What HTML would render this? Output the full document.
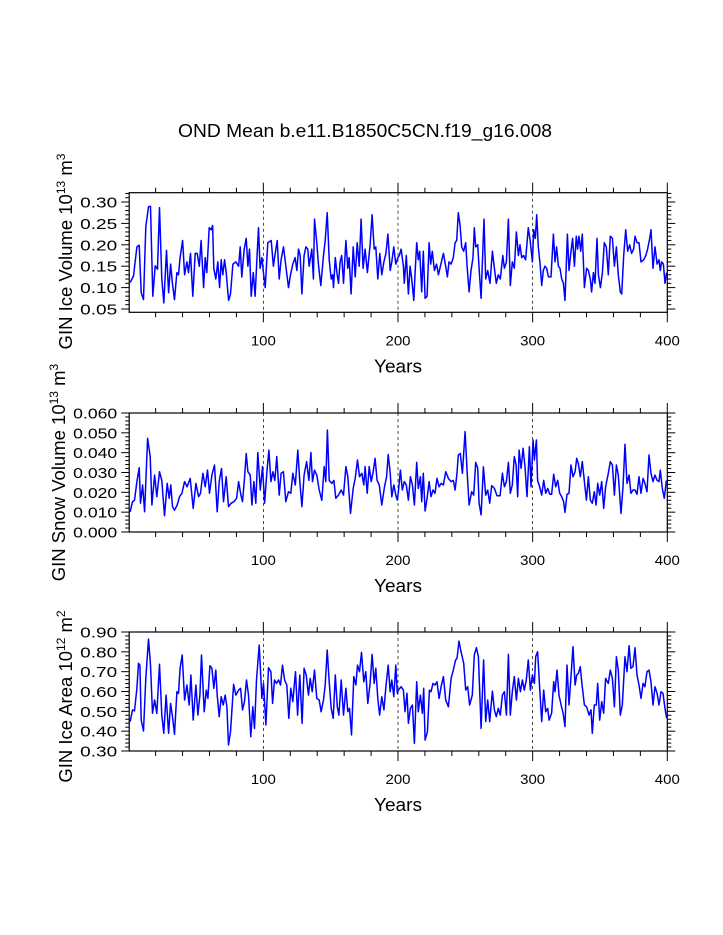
<!DOCTYPE html>
<html><head><meta charset="utf-8"><style>
body{margin:0;background:#fff;}
svg{display:block;font-family:"Liberation Sans",Arial,sans-serif;}
</style></head><body>
<svg id="chart" width="723" height="935" viewBox="0 0 723 935" xmlns="http://www.w3.org/2000/svg">
<rect width="723" height="935" fill="#fff"/>
<text x="365" y="137" font-size="18" text-anchor="middle" textLength="374" lengthAdjust="spacingAndGlyphs">OND Mean b.e11.B1850C5CN.f19_g16.008</text>
</svg>
<script>
// Panel 1: GIN Ice Volume
const iceVolYears=[1.1,3.6,6.1,7.8,9.3,11,12.7,14.7,16.2,17.9,19.7,21.4,22.9,24.6,26.1,28.1,29.6,31.1,32.5,34,35.8,37,38.2,40,41.5,43.2,44.4,45.9,47.6,49.4,50.9,52.4,53.8,55.6,56.8,58,59.8,61.3,62.3,63.2,64.7,66.2,67.5,68.7,69.9,71.2,72.4,74.2,75.6,77.4,79.6,81.6,82.8,84,85.8,87.3,88.5,89.7,91,92.5,93.9,95.4,96.4,97.6,98.9,99.9,101.4,103.3,105.8,107.5,108.8,110.3,111.8,113.2,115,116.9,118.7,120.2,121.9,123.6,124.9,126.1,127.4,128.6,130.3,131.6,133,134,136,137.2,138,139.7,140.9,142.7,144.7,145.9,147.4,148.9,150.4,151.4,152.1,153.4,154.6,155.8,157,158.2,159.5,161.3,162.7,163.7,165.2,166.7,168.2,169.7,171.2,172.6,174.1,175.6,177.3,179.3,180.8,182.3,183.5,185,186.5,188,189.5,191,192.5,194.2,195.4,196.9,198.4,199.9,
201,202.3,204,204.7,206.2,207.7,209,210.2,211.7,212.7,213.9,215.1,216.1,217.6,218.8,220.1,221.6,223.1,224.3,225.5,227,228.7,230,231.5,233.7,235.4,236.7,237.9,239.4,241.1,242.4,243.6,244.8,246.1,247.3,248.8,250.3,251.3,252.8,254.2,255.7,256.7,257.7,259.2,260.2,261.7,262.7,263.9,265.1,266.6,268.3,270.1,271.6,273,274.5,276,277.8,279,280.5,282,283.4,284.9,286.4,287.9,289.4,290.6,291.9,293.3,294.8,296.8,298.3,299.8,300.8,302,303,304.2,305.5,306.7,307.9,309.2,310.4,311.7,313.6,315.4,316.6,317.8,319.1,320.3,321.6,322.8,324,325.8,327,328.5,329.7,331,332.4,333.4,334.4,335.7,336.9,338.4,340.1,341.4,342.8,343.8,345.1,346.3,347.8,348.8,350.3,351.8,353.2,354.7,356.2,357.7,359.2,360.7,362.2,363.6,365.1,366.1,367.6,369.1,370.6,372.1,373.5,375,376,377.5,379,380.5,382.5,384,385.4,386.9,387.9,389.4,390.9,392.4,393.8,394.8,395.8,397.1,398.3,399.5];
const iceVolValues=[0.112,0.127,0.195,0.199,0.088,0.072,0.242,0.289,0.29,0.08,0.151,0.143,0.287,0.12,0.064,0.187,0.088,0.155,0.108,0.072,0.135,0.13,0.17,0.21,0.13,0.16,0.135,0.18,0.08,0.18,0.18,0.15,0.21,0.10,0.17,0.135,0.24,0.235,0.245,0.145,0.12,0.16,0.10,0.165,0.13,0.165,0.135,0.07,0.085,0.155,0.16,0.15,0.195,0.125,0.19,0.215,0.15,0.19,0.08,0.135,0.08,0.18,0.24,0.145,0.17,0.14,0.10,0.205,0.21,0.15,0.18,0.21,0.12,0.165,0.195,0.145,0.10,0.13,0.155,0.17,0.14,0.19,0.175,0.085,0.175,0.195,0.19,0.15,0.19,0.12,0.26,0.205,0.155,0.105,0.175,0.21,0.275,0.165,0.12,0.13,0.10,0.17,0.135,0.11,0.16,0.175,0.11,0.21,0.145,0.17,0.085,0.195,0.125,0.205,0.15,0.26,0.145,0.19,0.135,0.20,0.27,0.19,0.195,0.12,0.18,0.13,0.16,0.18,0.225,0.14,0.16,0.195,0.155,0.17,
0.175,0.19,0.15,0.11,0.175,0.085,0.15,0.12,0.07,0.135,0.205,0.165,0.185,0.09,0.185,0.075,0.08,0.205,0.155,0.185,0.14,0.155,0.13,0.15,0.18,0.15,0.125,0.16,0.155,0.17,0.205,0.21,0.275,0.245,0.195,0.185,0.205,0.15,0.09,0.14,0.17,0.24,0.195,0.2,0.145,0.075,0.16,0.26,0.12,0.14,0.11,0.185,0.145,0.11,0.13,0.12,0.175,0.145,0.16,0.26,0.105,0.16,0.145,0.23,0.175,0.2,0.17,0.175,0.165,0.24,0.205,0.16,0.235,0.215,0.27,0.195,0.155,0.105,0.14,0.15,0.145,0.125,0.125,0.225,0.16,0.195,0.15,0.145,0.12,0.11,0.07,0.225,0.14,0.185,0.215,0.15,0.22,0.19,0.22,0.185,0.225,0.10,0.145,0.14,0.12,0.09,0.135,0.11,0.215,0.13,0.10,0.135,0.205,0.195,0.13,0.22,0.215,0.15,0.195,0.13,0.09,0.085,0.175,0.235,0.185,0.2,0.18,0.19,0.22,0.205,0.205,0.16,0.165,0.175,0.19,0.215,0.235,0.145,0.195,0.155,0.165,0.14,0.16,0.155,0.11,0.135];

// Panel 2: GIN Snow Volume
const snowYears=[1.1,2.8,4.3,6.1,7.8,8.8,10.3,11.8,14,16,17.2,19.2,20.9,22.9,24.6,26.6,28.6,30.1,31.3,32.5,34,36,37.7,39.5,41.5,43.4,45.7,47.9,49.9,51.9,53.3,55.1,56.8,58.5,60,61.8,63.7,65.7,67.2,68.9,70.4,72.4,74.1,76.1,78.1,80.1,81.6,83.3,84.5,86,87.3,88.5,90.2,91.5,93,94.4,95.9,97.7,99.4,100.9,102.6,104.1,105.6,107.1,108.5,110,111.8,113.2,114.9,116.7,118.7,120.4,121.9,123.7,125.6,127.1,128.6,130.3,132.1,133.8,135.3,136.5,138,139.7,141.5,143.4,145.2,146.4,147.6,148.9,150.9,152.4,153.8,155.8,157.8,159.5,161.3,162.7,164.7,166.7,168.2,169.9,171.4,173.1,174.6,175.6,177.1,178.6,180.1,181.6,183,184.5,186.1,188,190,191.5,192.7,194.2,195.4,196.9,198.4,
199.5,200.3,201.8,203.2,204.7,206.2,207.7,209.2,210.7,212.2,213.9,215.1,216.6,217.6,218.8,220.1,221.6,223.1,224.5,226,227.5,229,230.5,232,233.7,235.4,237.4,239.4,241.1,242.4,243.8,244.8,246.3,247.8,249.8,251.3,252.8,254.7,256.2,257.7,259.2,260.2,261.7,263.4,265.1,266.6,268.1,269.6,271.6,273.5,275.8,277.5,279,280.5,282,283.4,284.9,286.4,287.7,288.9,289.9,291.4,292.9,294.3,295.8,297.6,298.8,300.3,301.3,302.8,303.7,305.2,306.7,308.2,309.7,311.2,312.7,314.1,315.6,317.1,318.6,320.1,321.6,323,324,325.5,327,328.5,330,331.5,332.7,333.9,335.4,336.9,338.4,339.9,341.4,342.8,344.3,345.8,347.1,348.3,349.8,351.3,352.8,354.2,356.2,357.7,359.2,360.7,362.2,363.6,365.6,367.1,368.6,370.1,371.6,373,374.5,376,377.5,379,380.5,382,383.4,384.9,386.4,387.9,389.4,390.9,392.4,393.8,394.8,396.3,397.8,399.3];
const snowValues=[0.0102,0.0153,0.016,0.0254,0.0324,0.0145,0.0237,0.0102,0.0472,0.038,0.0136,0.0287,0.0178,0.0304,0.026,0.0082,0.0245,0.017,0.0237,0.0128,0.011,0.0136,0.0178,0.0195,0.0254,0.0228,0.027,0.0119,0.0245,0.0178,0.0195,0.0296,0.0228,0.0312,0.0195,0.0287,0.0338,0.0102,0.0254,0.032,0.0153,0.0279,0.0128,0.0145,0.0153,0.017,0.0254,0.0186,0.0153,0.027,0.0396,0.0304,0.0287,0.0136,0.0254,0.0145,0.0401,0.0212,0.033,0.0145,0.0304,0.0413,0.0254,0.0304,0.026,0.038,0.0186,0.0296,0.0304,0.0153,0.0203,0.0195,0.0296,0.0237,0.0413,0.0254,0.0128,0.0287,0.0355,0.026,0.0401,0.0254,0.0312,0.0287,0.0212,0.016,0.033,0.0254,0.0514,0.026,0.0245,0.026,0.017,0.0186,0.0212,0.0186,0.033,0.0279,0.0094,0.022,0.027,0.0363,0.0279,0.0296,0.0237,0.033,0.0195,0.033,0.0254,0.0304,0.0371,0.026,0.0237,0.0136,0.0228,0.0279,0.0391,0.0296,0.0178,0.0237,0.0186,
0.0161,0.0203,0.0312,0.0212,0.0254,0.0237,0.0161,0.0279,0.0237,0.0136,0.0351,0.022,0.0279,0.0153,0.0296,0.0106,0.017,0.0254,0.0178,0.0212,0.0195,0.027,0.0228,0.0245,0.0237,0.0304,0.027,0.0254,0.026,0.0212,0.0296,0.0388,0.0396,0.0296,0.0506,0.0304,0.0136,0.0203,0.0186,0.0351,0.0321,0.0145,0.0086,0.0329,0.0186,0.0212,0.0145,0.0234,0.022,0.0183,0.0183,0.0296,0.0228,0.0254,0.0351,0.0195,0.0237,0.038,0.0338,0.0178,0.0413,0.0321,0.0422,0.0329,0.0178,0.043,0.0228,0.0464,0.0363,0.0464,0.026,0.0228,0.0186,0.026,0.0195,0.022,0.019,0.019,0.0291,0.0228,0.026,0.0195,0.0178,0.0153,0.0099,0.019,0.0195,0.0338,0.0279,0.0304,0.0371,0.0346,0.0279,0.0355,0.0254,0.0161,0.0279,0.0161,0.0145,0.0203,0.0136,0.0245,0.0186,0.0254,0.0119,0.0228,0.0296,0.0355,0.0338,0.0186,0.0338,0.0287,0.0094,0.0228,0.0442,0.0245,0.0287,0.0195,0.0212,0.0212,0.019,0.0279,0.0195,0.027,0.0245,0.0203,0.0388,0.0296,0.0254,0.0287,0.026,0.0254,0.0312,0.022,0.017,0.026];

// Panel 3: GIN Ice Area
const areaYears=[1.1,2.8,4.3,6.1,7.3,8.3,9.3,11,12.7,14.7,16.2,17.7,19.2,20.9,22.9,24.6,26.1,27.8,29.6,31.1,32.5,34,35.8,37,38.2,39.7,41.5,43.2,44.9,46.2,47.9,49.9,51.4,52.9,54.1,56.1,57.6,58.8,60.3,61.8,63.2,64.7,65.7,67.2,68.7,70.2,71.7,72.9,74.1,75.6,77.9,79.6,81.6,83.1,84.5,86,87.5,89,90.7,92.2,93.4,94.9,96.9,98.9,100.1,101.9,103.8,105.6,106.9,108.3,109.8,111.3,112.7,114.2,115.8,117.4,118.9,120.4,121.9,123.9,125.4,127.1,128.8,130.3,131.8,133.5,134.8,136.3,138,139.7,141.5,142.9,144.7,145.9,147.4,148.9,150.4,151.9,153.4,154.9,156.1,157.8,159.5,161.3,162.7,164,165.5,167.2,168.7,169.9,171.4,172.9,174.6,176.1,177.6,179.3,180.8,182.3,183.5,185,186.3,188,189.5,191,192.7,194.2,195.4,196.9,198.4,
199.5,200.3,202.3,204,205.2,206.7,207.7,209.2,210.7,212.2,213.9,215.1,216.6,218.1,219.1,220.1,221.8,223.3,224.5,226,227.5,229,230.5,232,233.7,235.4,237.4,239.4,241.1,242.8,243.8,245.3,246.8,248.8,250.3,251.8,253.2,255.2,256.7,258.2,259.7,261.7,263.6,265.1,266.6,268.1,270.1,271.6,273,274.5,276,277.5,279,280.5,282,283.4,284.9,286.4,287.9,289.4,290.9,292.4,293.8,295.3,296.8,298.3,299.8,301.3,302.3,303.7,305.2,306.7,308.2,309.7,311.2,312.2,314.1,315.6,316.6,318.1,319.6,321.1,322.6,324,325.5,327,328.5,330,331.5,332.7,333.9,335.4,336.4,338.4,340.1,341.9,343.3,344.3,345.8,347.3,348.3,349.8,351.3,352.8,354.2,356.2,357.7,359.2,360.7,362.2,363.6,365.1,366.6,368.6,370.1,371.6,373,374.5,376,377.5,379,380.5,382,383.4,384.9,386.4,387.9,389.4,390.9,392.4,393.8,395.3,396.8,398.3,399.5];
const areaValues=[0.448,0.507,0.502,0.616,0.742,0.733,0.456,0.401,0.666,0.864,0.733,0.49,0.557,0.49,0.737,0.481,0.389,0.582,0.389,0.54,0.473,0.384,0.599,0.591,0.717,0.784,0.557,0.633,0.532,0.683,0.456,0.633,0.481,0.582,0.784,0.498,0.607,0.565,0.73,0.717,0.616,0.708,0.582,0.473,0.574,0.532,0.582,0.523,0.33,0.397,0.636,0.582,0.607,0.616,0.507,0.549,0.658,0.582,0.372,0.523,0.414,0.658,0.834,0.565,0.641,0.431,0.72,0.7,0.54,0.658,0.641,0.658,0.633,0.733,0.658,0.633,0.465,0.616,0.549,0.7,0.481,0.683,0.439,0.717,0.683,0.582,0.666,0.599,0.708,0.565,0.557,0.498,0.557,0.633,0.809,0.649,0.515,0.465,0.683,0.523,0.481,0.658,0.481,0.616,0.498,0.515,0.381,0.675,0.633,0.733,0.7,0.797,0.649,0.7,0.54,0.641,0.787,0.641,0.717,0.565,0.481,0.574,0.507,0.624,0.733,0.599,0.658,0.574,0.733,
0.591,0.607,0.624,0.607,0.498,0.591,0.439,0.515,0.532,0.339,0.649,0.498,0.582,0.49,0.616,0.355,0.397,0.607,0.599,0.641,0.633,0.649,0.565,0.624,0.675,0.557,0.523,0.666,0.708,0.759,0.767,0.854,0.801,0.742,0.607,0.624,0.532,0.582,0.784,0.821,0.775,0.414,0.759,0.448,0.557,0.448,0.602,0.507,0.473,0.515,0.481,0.582,0.599,0.481,0.787,0.481,0.599,0.675,0.557,0.666,0.599,0.658,0.607,0.658,0.759,0.607,0.683,0.641,0.775,0.801,0.616,0.448,0.607,0.498,0.515,0.456,0.49,0.649,0.599,0.708,0.582,0.532,0.49,0.423,0.733,0.532,0.675,0.826,0.633,0.683,0.691,0.725,0.649,0.532,0.523,0.481,0.507,0.389,0.532,0.532,0.641,0.456,0.549,0.49,0.666,0.641,0.708,0.666,0.523,0.775,0.708,0.481,0.532,0.775,0.7,0.831,0.717,0.725,0.821,0.683,0.633,0.565,0.641,0.624,0.7,0.708,0.649,0.532,0.624,0.591,0.532,0.599,0.591,0.515,0.465];

const xTickVals=[100,200,300,400];
const yTicks1=["0.05","0.10","0.15","0.20","0.25","0.30"];
const yTicks2=["0.000","0.010","0.020","0.030","0.040","0.050","0.060"];
const yTicks3=["0.30","0.40","0.50","0.60","0.70","0.80","0.90"];

const NS="http://www.w3.org/2000/svg";
const svg=document.getElementById('chart');
function mk(tag,attrs,parent){const e=document.createElementNS(NS,tag);for(const k in attrs)e.setAttribute(k,attrs[k]);(parent||svg).appendChild(e);return e;}

const L=129.2,R=667.3;
function xs(v){return 128.7+(v)*(667.3-128.7)/400;}

function panel(opt){
  const g=mk('g',{});
  
  
  const T=opt.top,B=opt.bottom;
  const ys=v=>B-(v-opt.ymin)/(opt.ymax-opt.ymin)*(B-T);
  for(const t of [100,200,300]){
    const d=mk('line',{x1:xs(t),x2:xs(t),y1:T,y2:B,stroke:'#000','stroke-width':0.7,'stroke-dasharray':'3,3'},g);
    
    
  }
  let dstr='';
  for(let i=0;i<opt.years.length;i++){dstr+=(i?'L':'M')+xs(opt.years[i]).toFixed(1)+','+ys(opt.values[i]).toFixed(1);}
  const p=mk('path',{d:dstr,fill:'none',stroke:'#0000ff','stroke-width':1.5,'stroke-linejoin':'round'},g);
  
  
  const f=mk('rect',{x:L,y:T,width:R-L,height:B-T,fill:'none',stroke:'#000','stroke-width':1.2},g);
  
  
  for(let yr=20;yr<=400;yr+=20){
    const maj=yr%100===0;const len=maj?10:5;const x=xs(yr);
    mk('line',{x1:x,x2:x,y1:T,y2:T-len,stroke:'#000','stroke-width':1},g);
    mk('line',{x1:x,x2:x,y1:B,y2:B+len,stroke:'#000','stroke-width':1},g);
  }
  for(const t of xTickVals){
    const tx=mk('text',{x:xs(t),y:B+33,'font-size':14,'text-anchor':'middle',textLength:25,lengthAdjust:'spacingAndGlyphs'},g);
    
    
    tx.textContent=t;
  }
  const xt=mk('text',{x:398,y:B+60,'font-size':18,'text-anchor':'middle',textLength:48,lengthAdjust:'spacingAndGlyphs'},g);
  
  
  xt.textContent='Years';
  const start=Math.ceil(opt.ymin/opt.minor-1e-6);
  for(let k=start;k*opt.minor<=opt.ymax+1e-9;k++){
    const v=k*opt.minor;const y=ys(v);
    const isMaj=Math.abs(v/opt.major-Math.round(v/opt.major))<1e-6;
    const len=isMaj?8:4;
    mk('line',{x1:L,x2:L-len,y1:y,y2:y,stroke:'#000','stroke-width':1},g);
    mk('line',{x1:R,x2:R+len,y1:y,y2:y,stroke:'#000','stroke-width':1},g);
  }
  for(const s of opt.ticks){
    const tx=mk('text',{x:L-12,y:ys(parseFloat(s))+5.5,'font-size':15,'text-anchor':'end',textLength:(s.length===4?37:44),lengthAdjust:'spacingAndGlyphs'},g);
    
    
    tx.textContent=s;
  }
  const cy=(T+B)/2;
  const yt=mk('text',{x:0,y:0,'font-size':18.5,'text-anchor':'middle',transform:`translate(${opt.titleX},${cy+opt.titleDy}) rotate(-90)`},g);
  
  
  yt.innerHTML=opt.title;
}
panel({name:'ice-volume-panel',top:192.7,bottom:312.3,ymin:0.0423,ymax:0.3217,minor:0.01,major:0.05,years:iceVolYears,values:iceVolValues,ticks:yTicks1,titleX:72,titleDy:-1,
 title:'GIN Ice Volume 10<tspan dy="-7" font-size="12">13</tspan><tspan dy="7"> m</tspan><tspan dy="-7" font-size="12">3</tspan>'});
panel({name:'snow-volume-panel',top:413,bottom:532,ymin:0,ymax:0.06,minor:0.002,major:0.01,years:snowYears,values:snowValues,ticks:yTicks2,titleX:65,titleDy:0,
 title:'GIN Snow Volume 10<tspan dy="-7" font-size="12">13</tspan><tspan dy="7"> m</tspan><tspan dy="-7" font-size="12">3</tspan>'});
panel({name:'ice-area-panel',top:632,bottom:751,ymin:0.3,ymax:0.9,minor:0.02,major:0.1,years:areaYears,values:areaValues,ticks:yTicks3,titleX:72,titleDy:5,
 title:'GIN Ice Area 10<tspan dy="-7" font-size="12">12</tspan><tspan dy="7"> m</tspan><tspan dy="-7" font-size="12">2</tspan>'});
</script>
</body></html>
